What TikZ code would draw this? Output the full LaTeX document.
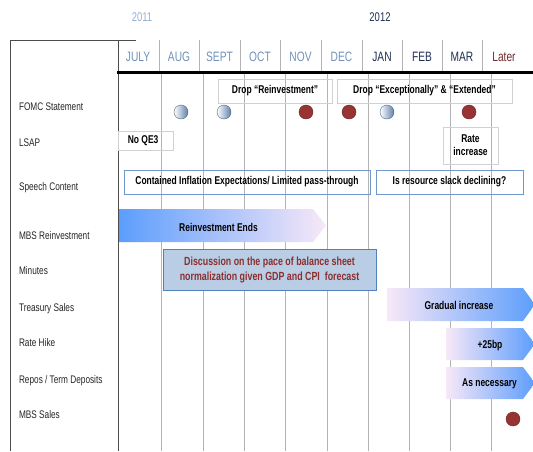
\documentclass[tikz,border=0pt]{standalone}
\usepackage{fontspec}
\setmainfont[FakeStretch=0.75]{Liberation Sans}
\usetikzlibrary{positioning}
\definecolor{paleyear}{HTML}{93AED3}
\definecolor{lightmonth}{HTML}{7090BA}
\definecolor{darkmonth}{HTML}{1F2F4F}
\definecolor{latered}{HTML}{6E2A2A}
\definecolor{dotred}{HTML}{983333}
\definecolor{dotblue}{HTML}{5D80AA}
\definecolor{arrowblue}{HTML}{5C9DFC}
\definecolor{arrowpink}{HTML}{F8E8F8}
\definecolor{boxblue}{HTML}{6F97CC}
\definecolor{minfill}{HTML}{B9CDE5}
\definecolor{minline}{HTML}{4F81BD}
\definecolor{mintext}{HTML}{8B2E2E}
\definecolor{gridgray}{HTML}{B4B4B4}

\begin{document}
\begin{tikzpicture}[x=1pt, y=-1pt,
  rowlabel/.style={anchor=west, text=black!85, text height=1.5ex, text depth=.3ex,
    font=\fontsize{11}{13}\selectfont},
  month/.style={font=\fontsize{13.6}{15}\selectfont},
  year/.style={font=\fontsize{12.6}{14}\selectfont},
  greybox/.style={draw=black!18, inner sep=0pt, align=center,
    font=\fontsize{11.3}{13}\selectfont\bfseries},
  speechbox/.style={draw=boxblue, inner sep=0pt, minimum height=24pt,
    font=\fontsize{11.3}{13}\selectfont\bfseries},
  bartext/.style={font=\fontsize{11.3}{13}\selectfont\bfseries},
  reddot/.style={circle, draw=dotred!70!black, fill=dotred, minimum size=14pt, inner sep=0pt},
  bluedot/.style={circle, draw=dotblue!80!black, left color=white, right color=dotblue,
    minimum size=14pt, inner sep=0pt}]
  \useasboundingbox (0,0) rectangle (533,451);

  % frame and grid
  \draw[black!70, line width=0.8pt] (10,40) -- (136,40) (10,40) -- (10,451) (118,40) -- (118,451);
  \foreach \x in {159,199,240,280,321,362,402,442,482}
    \draw[gridgray, line width=0.8pt] (\x,40) -- (\x,72);
  \foreach \x in {161,203,244,285,327,368,409,450,491}
    \draw[gridgray, line width=0.8pt] (\x,72) -- (\x,451);
  \draw[line width=3pt] (117,72) -- (533,72);

  % years and months
  \node[year, text=paleyear] (y2011) at (142,17) {2011};
  \node[year, text=darkmonth] (y2012) at (380,17) {2012};
  \foreach \m/\x/\c in {JULY/138/lightmonth, AUG/179/lightmonth, SEPT/219.5/lightmonth,
      OCT/260/lightmonth, NOV/300.5/lightmonth, DEC/341.5/lightmonth,
      JAN/382/darkmonth, FEB/422/darkmonth, MAR/462/darkmonth, Later/504/latered}
    \node[month, text=\c] (m-\m) at (\x,57) {\m};

  % row labels
  \node[rowlabel] (fomc) at (15.5,107) {FOMC Statement};
  \node[rowlabel] (lsap) at (15.5,143) {LSAP};
  \node[rowlabel] (speech) at (15.5,187.5) {Speech Content};
  \node[rowlabel] (mbsre) at (15.5,236.5) {MBS Reinvestment};
  \node[rowlabel] (minutes) at (15.5,271.5) {Minutes};
  \node[rowlabel] (treas) at (15.5,308) {Treasury Sales};
  \node[rowlabel] (hike) at (15.5,343) {Rate Hike};
  \node[rowlabel] (repos) at (15.5,380) {Repos / Term Deposits};
  \node[rowlabel] (mbssa) at (15.5,415) {MBS Sales};

  % FOMC statement
  \node[greybox, minimum width=114pt, minimum height=24pt] (dropre) at (275,91) {Drop “Reinvestment”};
  \node[greybox, minimum width=175pt, minimum height=24pt] (dropex) at (424.5,91) {Drop “Exceptionally” \& “Extended”};
  \node[bluedot] (d-aug) at (181,112) {};
  \node[bluedot] (d-sept) at (224,112) {};
  \node[reddot] (d-nov) at (306,112) {};
  \node[reddot] (d-dec) at (349,112) {};
  \node[bluedot] (d-jan) at (387,112) {};
  \node[reddot] (d-mar) at (469,112) {};

  % LSAP
  \node[greybox, minimum width=55pt, minimum height=19pt] (noqe) at (145.5,140.5) {No QE3~~};
  \node[greybox, minimum width=55pt, minimum height=37pt] (rateinc) at (470.5,145.5) {Rate\\increase};

  % speech content
  \node[speechbox, minimum width=246pt] (contained) at (247,182) {Contained Inflation Expectations/ Limited pass-through};
  \node[speechbox, minimum width=147pt] (slack) at (449.5,182) {Is resource slack declining?};

  % bars
  \shade[left color=arrowblue, right color=arrowpink]
    (119,209) -- (313,209) -- (326,225.5) -- (313,242) -- (119,242) -- cycle;
  \node[bartext] (reinvends) at (218.5,227) {Reinvestment Ends};
  \node[draw=minline, fill=minfill, line width=0.8pt, minimum width=213pt, minimum height=41pt,
    inner sep=0pt, align=center, text=mintext, font=\fontsize{11.8}{15}\selectfont\bfseries]
    (discuss) at (269.5,269.5) {Discussion on the pace of balance sheet\\normalization given GDP and CPI~ forecast};
  \shade[left color=arrowpink, right color=arrowblue]
    (387,288) -- (523,288) -- (535,304.5) -- (523,321) -- (387,321) -- cycle;
  \node[bartext] (gradual) at (459,305) {Gradual increase};
  \shade[left color=arrowpink, right color=arrowblue]
    (446,328) -- (523,328) -- (535,344) -- (523,360) -- (446,360) -- cycle;
  \node[bartext] (bp) at (490,346) {+25bp};
  \shade[left color=arrowpink, right color=arrowblue]
    (446,367) -- (523,367) -- (535,383) -- (523,399) -- (446,399) -- cycle;
  \node[bartext] (asnec) at (489.5,384) {As necessary};

  % MBS sales
  \node[reddot] (d-later) at (513,419) {};
\end{tikzpicture}
\end{document}
